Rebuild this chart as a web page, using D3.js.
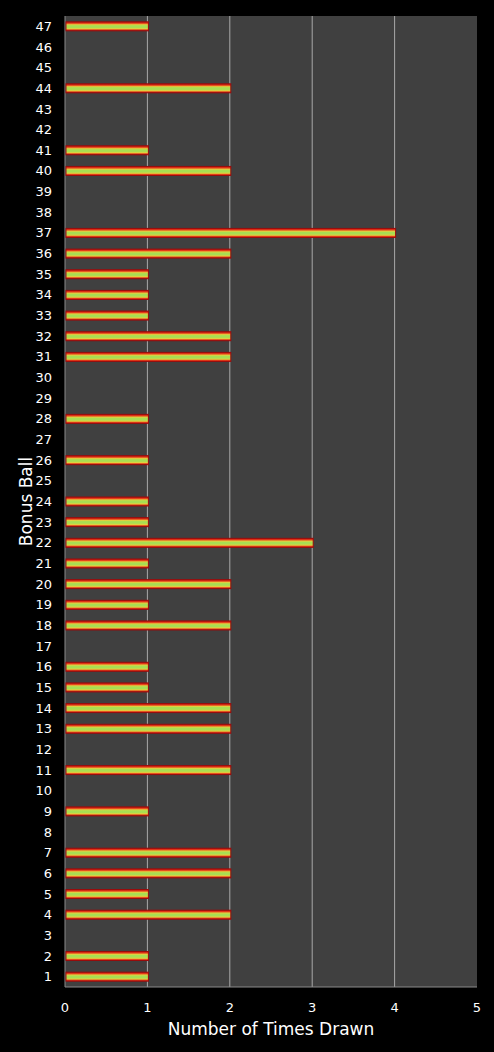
<!DOCTYPE html>
<html>
<head>
<meta charset="utf-8">
<script src="https://cdn.jsdelivr.net/npm/d3@7"></script>
<style>
  body { margin: 0; background: #000; }
  text { font-family: "DejaVu Sans", "Open Sans", sans-serif; fill: #fff; }
</style>
</head>
<body>
<script>
// bonus ball numbers and how many times each was drawn
const balls = d3.range(1, 48);
const timesDrawn = [1, 1, 0, 2, 1, 2, 2, 0, 1, 0,
                    2, 0, 2, 2, 1, 1, 0, 2, 1, 2,
                    1, 3, 1, 1, 0, 1, 0, 1, 0, 0,
                    2, 2, 1, 1, 1, 2, 4, 0, 0, 2,
                    1, 0, 0, 2, 0, 0, 1];
const xTicks = [0, 1, 2, 3, 4, 5];

const width = 494, height = 1052;
const margin = {top: 16, right: 17, bottom: 65, left: 65};

const svg = d3.select('body').append('svg')
  .attr('width', width).attr('height', height);

const defs = svg.append('defs');
const grad = defs.append('linearGradient')
  .attr('id', 'barGrad').attr('x1', 0).attr('y1', 0).attr('x2', 0).attr('y2', 1);
[[0, '#b80e0e'], [0.16, '#e83a18'], [0.32, '#e0d040'], [0.44, '#a8de52'],
 [0.62, '#a8de52'], [0.76, '#e0d040'], [0.9, '#e83a18'], [1, '#a80c0c']]
  .forEach(s => grad.append('stop').attr('offset', s[0]).attr('stop-color', s[1]));

const x = d3.scaleLinear().domain([0, 5])
  .range([margin.left, width - margin.right]);
const y = d3.scaleBand().domain(balls.slice().reverse())
  .range([margin.top, height - margin.bottom]);

// plot background
svg.append('rect')
  .attr('x', x(0)).attr('y', margin.top)
  .attr('width', x(5) - x(0)).attr('height', y.range()[1] - margin.top)
  .attr('fill', '#404040');

// gridlines
svg.append('g').selectAll('line').data(xTicks.slice(1, -1)).enter().append('line')
  .attr('x1', d => x(d)).attr('x2', d => x(d))
  .attr('y1', margin.top).attr('y2', y.range()[1])
  .attr('stroke', '#a8a8a8').attr('stroke-width', 1);

// axes lines
svg.append('line')
  .attr('x1', x(0)).attr('x2', x(0)).attr('y1', margin.top).attr('y2', y.range()[1])
  .attr('stroke', '#8a8a8a');
svg.append('line')
  .attr('x1', x(0)).attr('x2', x(5)).attr('y1', y.range()[1]).attr('y2', y.range()[1])
  .attr('stroke', '#8a8a8a');

// bars
const barH = 9;
svg.append('g').selectAll('rect').data(balls.filter((b, i) => timesDrawn[i] > 0)).enter().append('rect')
  .attr('x', x(0) + 1)
  .attr('y', d => y(d) + y.bandwidth() / 2 - barH / 2)
  .attr('width', d => x(timesDrawn[d - 1]) - x(0))
  .attr('height', barH)
  .attr('fill', 'url(#barGrad)')
  .attr('stroke', '#9a0c0c').attr('stroke-width', 1);

// y tick labels
svg.append('g').selectAll('text').data(balls).enter().append('text')
  .attr('x', x(0) - 13)
  .attr('y', d => y(d) + y.bandwidth() / 2)
  .attr('dy', '0.35em')
  .attr('text-anchor', 'end')
  .style('font-size', '13px')
  .text(d => d);

// x tick labels
svg.append('g').selectAll('text').data(xTicks).enter().append('text')
  .attr('x', d => x(d))
  .attr('y', y.range()[1] + 25)
  .attr('text-anchor', 'middle')
  .style('font-size', '13px')
  .text(d => d);

// axis titles
svg.append('text')
  .attr('x', (x(0) + x(5)) / 2).attr('y', 1035)
  .attr('text-anchor', 'middle')
  .style('font-size', '17px')
  .text('Number of Times Drawn');

svg.append('text')
  .attr('transform', `translate(32,${(margin.top + y.range()[1]) / 2}) rotate(-90)`)
  .attr('text-anchor', 'middle')
  .style('font-size', '17px')
  .text('Bonus Ball');
</script>
</body>
</html>
